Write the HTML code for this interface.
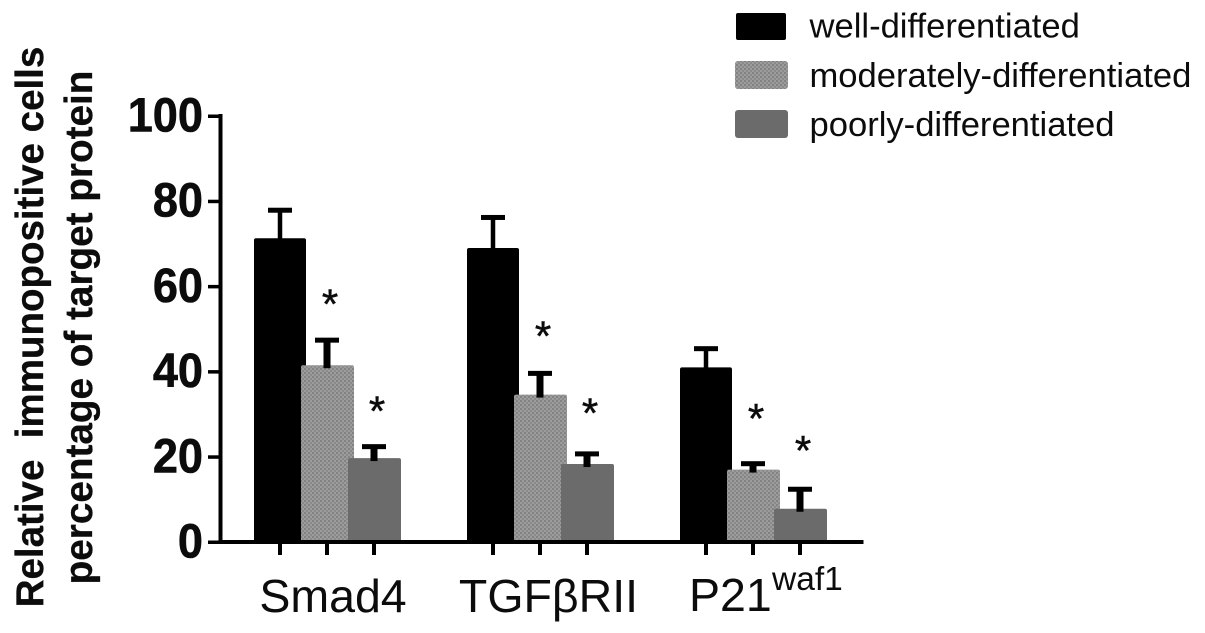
<!DOCTYPE html>
<html lang="en">
<head>
<meta charset="utf-8">
<title>Relative immunopositive cells chart</title>
<style>
html,body{margin:0;padding:0;background:#fff;width:1205px;height:633px;overflow:hidden}
svg{display:block;filter:blur(.35px)}
text{font-family:"Liberation Sans",sans-serif;fill:#0c0c0c}
</style>
</head>
<body>
<svg id="chart" xmlns="http://www.w3.org/2000/svg" width="1205" height="633" viewBox="0 0 1205 633">
  <defs>
    <pattern id="dots" width="4" height="4" patternUnits="userSpaceOnUse">
      <rect width="4" height="4" fill="#9c9c9c"/>
      <rect x="0" y="0" width="2" height="2" fill="#828282"/>
      <rect x="2" y="2" width="2" height="2" fill="#8a8a8a"/>
    </pattern>
  </defs>
  <g id="plot"></g>
  <text transform="translate(43,327) rotate(-90)" text-anchor="middle" font-size="38.5" font-weight="700" stroke="#0c0c0c" stroke-width=".3" xml:space="preserve">Relative  immunopositive cells</text>
  <text transform="translate(92,327.5) rotate(-90)" text-anchor="middle" font-size="38.7" font-weight="700" stroke="#0c0c0c" stroke-width=".3">percentage of target protein</text>
  <g>
    <rect x="736" y="13" width="50" height="27" rx="2" fill="#000"/>
    <text x="809.5" y="37.5" font-size="34.6">well-differentiated</text>
    <rect x="735" y="61" width="53" height="28" rx="3" fill="url(#dots)"/>
    <text x="809.5" y="87" font-size="34.6">moderately-differentiated</text>
    <rect x="735" y="110" width="53" height="28" rx="3" fill="#6b6b6b"/>
    <text x="809.5" y="136" font-size="34.6">poorly-differentiated</text>
  </g>
</svg>
<script>
const categories = ["Smad4", "TGFβRII", "P21"];
const well = [71.3, 69, 41];
const moderately = [41.5, 34.6, 17];
const poorly = [19.7, 18.3, 7.8];
const wellError = [6.7, 7.3, 4.5];
const moderatelyError = [6, 5.1, 1.5];
const poorlyError = [2.8, 2.5, 4.7];
const moderatelyStar = [56.8, 49.3, 30];
const poorlyStar = [31.7, 31.2, 22.5];
const yTicks = [0, 20, 40, 60, 80, 100];

const NS = "http://www.w3.org/2000/svg";
const plot = document.getElementById("plot");
const Y0 = 542, PX_PER_UNIT = 4.26;
const GROUP_START = 280, GROUP_STEP = 213, BAR_STEP = 47, BAR_W = 52;
const yScale = v => Y0 - v * PX_PER_UNIT;
const xScale = (g, s) => GROUP_START + g * GROUP_STEP + s * BAR_STEP;

function make(tag, attrs, text) {
  const el = document.createElementNS(NS, tag);
  for (const k in attrs) el.setAttribute(k, attrs[k]);
  if (text !== undefined) el.textContent = text;
  plot.appendChild(el);
  return el;
}

const seriesList = [
  { key: "well", values: well, errors: wellError, fill: "#000", stem: 4.5 },
  { key: "moderately", values: moderately, errors: moderatelyError, fill: "url(#dots)", stem: 7 },
  { key: "poorly", values: poorly, errors: poorlyError, fill: "#6b6b6b", stem: 7 }
];

seriesList.forEach((s, si) => {
  s.values.forEach((v, g) => {
    const cx = xScale(g, si);
    const top = yScale(v + s.errors[g]);
    const cap = make("rect", { x: cx - 12, y: top - 2, width: 24, height: 5, fill: "#000" });
    
    
    const bar = make("rect", { x: cx - BAR_W / 2, y: yScale(v), width: BAR_W + (si ? 1 : 0), height: Y0 - yScale(v), rx: 2, fill: s.fill });
    
    
    const stem = make("rect", { x: cx - s.stem / 2, y: top, width: s.stem, height: yScale(v) - top + 3, fill: "#000" });
    
    
  });
});

[moderatelyStar, poorlyStar].forEach((stars, i) => {
  stars.forEach((v, g) => {
    const t = make("text", { x: xScale(g, i + 1) + 3, y: yScale(v) + 18.6, "text-anchor": "middle", "font-size": 42, stroke: "#0c0c0c", "stroke-width": 0.5 }, "*");
    
    
  });
});

const yAxis = make("rect", { x: 218.5, y: yScale(100) - 2, width: 4, height: Y0 - yScale(100) + 4, fill: "#000" });


const xAxis = make("rect", { x: 218.5, y: Y0 - 2, width: 645, height: 4, fill: "#000" });



yTicks.forEach(v => {
  const tick = make("rect", { x: 208, y: yScale(v) - 1.5, width: 11, height: 3.5, fill: "#000" });
  
  
  const label = make("text", { transform: "translate(203," + (yScale(v) + 15.5) + ") scale(.94,1)", "text-anchor": "end", "font-size": 48, "font-weight": 700, stroke: "#0c0c0c", "stroke-width": 0.6 }, String(v));
  
  
});

categories.forEach((c, g) => {
  seriesList.forEach((s, si) => {
    const tick = make("rect", { x: xScale(g, si) - 2, y: Y0 + 2, width: 4, height: 11, fill: "#000" });
    
    
  });
  const cx = xScale(g, 1);
  const label = make("text", { x: cx + (g === 2 ? -64 : g === 1 ? 8.5 : 6), y: g === 2 ? 611 : 612, "text-anchor": g === 2 ? "start" : "middle", "font-size": 46.5 }, c);
  
  
  if (g === 2) {
    const sup = make("text", { x: cx + 19, y: 590, "font-size": 33.5 }, "waf1");
    
    
  }
});
</script>
</body>
</html>
